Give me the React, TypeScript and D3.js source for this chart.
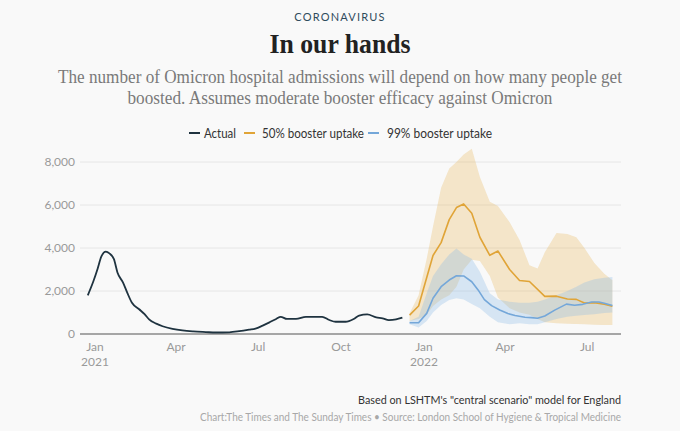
import React from "react";
import * as d3 from "d3";

// ---- data ----
const actualDates = ["2020-12-24","2020-12-30","2021-01-04","2021-01-08","2021-01-13","2021-01-17","2021-01-22","2021-01-26","2021-02-01","2021-02-06","2021-02-11","2021-02-19","2021-02-25","2021-03-02","2021-03-10","2021-03-17","2021-03-28","2021-04-08","2021-04-20","2021-05-04","2021-05-15","2021-05-30","2021-06-10","2021-06-21","2021-06-28","2021-07-06","2021-07-13","2021-07-21","2021-07-26","2021-08-02","2021-08-12","2021-08-23","2021-08-30","2021-09-10","2021-09-18","2021-09-25","2021-10-06","2021-10-15","2021-10-21","2021-10-30","2021-11-09","2021-11-16","2021-11-23","2021-12-01","2021-12-08"];
const actualValues = [1800,2430,3050,3600,3830,3750,3480,2850,2400,1900,1450,1150,920,680,480,360,240,165,120,90,70,80,130,200,250,390,530,700,800,700,700,800,800,800,650,570,570,700,860,910,775,730,650,680,760];

const orangeDates = ["2021-12-16","2021-12-26","2022-01-11","2022-01-20","2022-01-29","2022-02-06","2022-02-14","2022-02-23","2022-03-04","2022-03-15","2022-03-24","2022-04-06","2022-04-17","2022-04-28","2022-05-15","2022-05-28","2022-06-09","2022-06-19","2022-06-28","2022-07-09","2022-07-20","2022-07-29"];
const orangeValues = [880,1300,3650,4250,5320,5880,6050,5620,4500,3660,3860,3000,2490,2440,1750,1760,1630,1610,1440,1460,1380,1290];

const blueDates = ["2021-12-16","2021-12-26","2022-01-04","2022-01-11","2022-01-20","2022-01-29","2022-02-06","2022-02-14","2022-02-23","2022-03-02","2022-03-09","2022-03-17","2022-03-26","2022-04-04","2022-04-12","2022-04-23","2022-04-30","2022-05-07","2022-05-15","2022-05-26","2022-06-08","2022-06-17","2022-06-26","2022-07-06","2022-07-14","2022-07-20","2022-07-29"];
const blueValues = [525,525,960,1660,2200,2510,2710,2700,2430,2050,1600,1320,1120,950,860,780,760,730,840,1110,1390,1340,1380,1490,1490,1430,1330];

const bandDates = ["2021-12-16","2021-12-26","2022-01-04","2022-01-11","2022-01-20","2022-01-29","2022-02-06","2022-02-14","2022-02-23","2022-03-04","2022-03-15","2022-03-24","2022-04-06","2022-04-17","2022-04-28","2022-05-07","2022-05-15","2022-05-28","2022-06-09","2022-06-19","2022-06-28","2022-07-09","2022-07-20","2022-07-29"];
const orangeUpper = [970,1800,3500,5000,6800,7700,8000,8350,8620,7300,6150,5950,5200,4370,3200,3050,3800,4700,4650,4500,4000,3300,2800,2500];
const orangeLower = [600,700,900,1300,1600,1800,2200,3000,3450,3400,2700,1700,1200,1000,900,700,550,500,480,460,450,430,420,420];
const blueUpper = [600,800,1900,2700,3250,3700,3980,3700,3500,2900,1900,1600,1500,1450,1450,1500,1600,1800,2000,2200,2400,2550,2620,2650];
const blueLower = [450,300,600,1000,1350,1580,1660,1600,1400,1200,800,550,450,500,450,450,550,700,800,850,880,920,980,1000];

const xTickDates = ["2021-01-01","2021-04-01","2021-07-01","2021-10-01","2022-01-01","2022-04-01","2022-07-01"];
const yTicks = [0, 2000, 4000, 6000, 8000];

const legendItems = [
  { label: "Actual", color: "#1f3340" },
  { label: "50% booster uptake", color: "#e0a437" },
  { label: "99% booster uptake", color: "#74a7d9" },
];

const parse = d3.utcParse("%Y-%m-%d");
const SANS = "Lato, 'Open Sans', sans-serif";
const SERIF = "'Liberation Serif', 'DejaVu Serif', serif";

export default function App() {
  const W = 680, H = 431;
  const x = d3.scaleUtc()
    .domain([parse("2021-01-01")!, parse("2022-01-01")!])
    .range([95, 424]);
  const y = d3.scaleLinear().domain([0, 8000]).range([334, 162]);
  const left = 80, right = 621;

  const series = (dates: string[], vals: number[]) =>
    dates.map((d, i) => ({ d: parse(d)!, v: vals[i] }));

  const smoothLine = d3.line<{ d: Date; v: number }>()
    .x((p) => x(p.d)).y((p) => y(p.v)).curve(d3.curveMonotoneX);
  const polyLine = d3.line<{ d: Date; v: number }>()
    .x((p) => x(p.d)).y((p) => y(p.v)).curve(d3.curveLinear);

  const band = (lo: number[], hi: number[]) =>
    d3.area<string>()
      .x((d) => x(parse(d)!))
      .y0((_, i) => y(lo[i]))
      .y1((_, i) => y(hi[i]))
      .curve(d3.curveLinear)(bandDates) || "";

  const fmtMonth = d3.utcFormat("%b");
  const fmtYear = d3.utcFormat("%Y");

  const legendPos = [
    { sx: 189, tx: 204, tw: 32 },
    { sx: 244, tx: 262, tw: 102 },
    { sx: 368, tx: 387, tw: 105 },
  ];

  return (
    <div style={{ position: "absolute", left: 0, top: 0, width: W, height: H, background: "#f9f9f9" }}>
      <svg width={W} height={H} style={{ display: "block" }}>
        <rect x={0} y={0} width={W} height={H} fill="#f9f9f9" />
        <text x={340} y={21} textAnchor="middle" fontFamily={SANS} fontSize={11} letterSpacing={1.2} fill="#2f4b5c">CORONAVIRUS</text>
        <text x={340} y={53} textAnchor="middle" fontFamily={SERIF} fontWeight={700} fontSize={28} fill="#222" textLength={141} lengthAdjust="spacingAndGlyphs">In our hands</text>
        <text x={340} y={83} textAnchor="middle" fontFamily={SERIF} fontSize={18} fill="#7a7a7a" textLength={564} lengthAdjust="spacingAndGlyphs">The number of Omicron hospital admissions will depend on how many people get</text>
        <text x={340} y={104} textAnchor="middle" fontFamily={SERIF} fontSize={18} fill="#7a7a7a" textLength={425} lengthAdjust="spacingAndGlyphs">boosted. Assumes moderate booster efficacy against Omicron</text>

        {legendItems.map((it, i) => (
          <g key={it.label}>
            <line x1={legendPos[i].sx} x2={legendPos[i].sx + 11} y1={133} y2={133} stroke={it.color} strokeWidth={2} />
            <text x={legendPos[i].tx} y={137.5} fontFamily={SANS} fontSize={13} fill="#333" textLength={legendPos[i].tw} lengthAdjust="spacingAndGlyphs">{it.label}</text>
          </g>
        ))}

        {yTicks.filter((t) => t > 0).map((t) => (
          <line key={t} x1={left} x2={right} y1={y(t)} y2={y(t)} stroke="#e6e6e6" strokeWidth={1} />
        ))}
        {yTicks.map((t) => (
          <text key={"l" + t} x={75} y={y(t) + 4} textAnchor="end" fontFamily={SANS} fontSize={12} fill="#9a9a9a">{d3.format(",")(t)}</text>
        ))}

        <path d={band(orangeLower, orangeUpper)} fill="#e8b75a" fillOpacity={0.3} />
        <path d={band(blueLower, blueUpper)} fill="#8dbbe6" fillOpacity={0.32} />

        <line x1={left} x2={right} y1={y(0)} y2={y(0)} stroke="#8a8a8a" strokeWidth={1.5} />

        <path d={smoothLine(series(actualDates, actualValues)) || ""} fill="none" stroke="#1f3340" strokeWidth={1.8} strokeLinejoin="round" />
        <path d={polyLine(series(orangeDates, orangeValues)) || ""} fill="none" stroke="#e0a437" strokeWidth={1.6} strokeLinejoin="round" />
        <path d={polyLine(series(blueDates, blueValues)) || ""} fill="none" stroke="#74a7d9" strokeWidth={1.6} strokeLinejoin="round" />

        {xTickDates.map((s) => {
          const d = parse(s)!;
          const isJan = d.getUTCMonth() === 0;
          return (
            <g key={s}>
              <text x={x(d)} y={351} textAnchor="middle" fontFamily={SANS} fontSize={12} fill="#9a9a9a">{fmtMonth(d)}</text>
              {isJan && (
                <text x={x(d)} y={366} textAnchor="middle" fontFamily={SANS} fontSize={12} fill="#9a9a9a">{fmtYear(d)}</text>
              )}
            </g>
          );
        })}

        <text x={621} y={404} textAnchor="end" fontFamily={SANS} fontSize={12} fill="#333" textLength={263} lengthAdjust="spacingAndGlyphs">Based on LSHTM's "central scenario" model for England</text>
        <text x={621} y={421} textAnchor="end" fontFamily={SANS} fontSize={11} fill="#a8a8a8" textLength={421} lengthAdjust="spacingAndGlyphs">Chart:The Times and The Sunday Times • Source: London School of Hygiene &amp; Tropical Medicine</text>
      </svg>
    </div>
  );
}
